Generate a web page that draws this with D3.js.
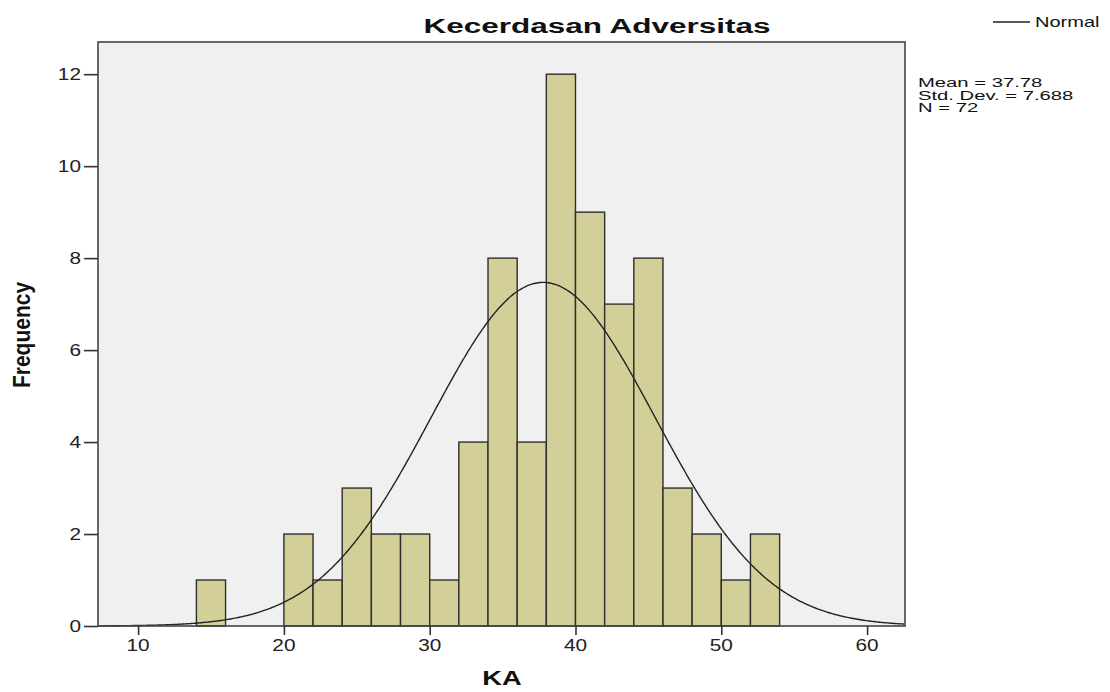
<!DOCTYPE html>
<html><head><meta charset="utf-8">
<script src="https://cdn.jsdelivr.net/npm/d3@7"></script>
<style>body{margin:0;background:#fff}</style>
</head><body>
<svg id="c" width="1110" height="692"></svg>
<script>
const binStarts = [14,20,22,24,26,28,30,32,34,36,38,40,42,44,46,48,50,52];
const counts    = [1, 2, 1, 3, 2, 2, 1, 4, 8, 4, 12,9, 7, 8, 3, 2, 1, 2];
const binWidth = 2;
const xTicks = [10,20,30,40,50,60];
const yTicks = [0,2,4,6,8,10,12];
const statsLines = ["Mean = 37.78","Std. Dev. = 7.688","N = 72"];
const mean = 37.78, sd = 7.688, n = 72;

const FONT = "'Liberation Sans', Arial, sans-serif";
const svg = d3.select("#c");
const L=98, R=905, T=42, B=626;
const x = d3.scaleLinear().domain([7.25,62.6]).range([L,R]);
const y = d3.scaleLinear().domain([0,12.7]).range([B,T]);

function wideText(g, txt, px, py, size, sx, anchor, weight){
  return g.append("text")
    .attr("transform",`translate(${px},${py}) scale(${sx},1)`)
    .attr("text-anchor",anchor||"start")
    .attr("font-family",FONT).attr("font-size",size)
    .attr("font-weight",weight||"normal").attr("fill","#111").text(txt);
}

svg.append("rect").attr("x",L).attr("y",T).attr("width",R-L).attr("height",B-T)
  .attr("fill","#f0f0f0");

svg.append("g").selectAll("rect").data(binStarts).join("rect")
  .attr("x",(d)=>x(d)).attr("width",(d)=>x(d+binWidth)-x(d))
  .attr("y",(d,i)=>y(counts[i])).attr("height",(d,i)=>B-y(counts[i]))
  .attr("fill","#d3cf98").attr("stroke","#2e2e2a").attr("stroke-width",1.4);

const pts = d3.range(x.domain()[0], x.domain()[1]+0.001, 0.1);
const norm = v => n*binWidth/(sd*Math.sqrt(2*Math.PI))*Math.exp(-0.5*((v-mean)/sd)**2);
svg.append("path").datum(pts)
  .attr("d", d3.line().x(v=>x(v)).y(v=>y(norm(v))).curve(d3.curveBasis))
  .attr("fill","none").attr("stroke","#222").attr("stroke-width",1.4);

svg.append("rect").attr("x",L).attr("y",T).attr("width",R-L).attr("height",B-T)
  .attr("fill","none").attr("stroke","#444").attr("stroke-width",1.6);

const xa = svg.append("g").attr("transform",`translate(0,${B})`)
  .call(d3.axisBottom(x).tickValues(xTicks).tickSize(9).tickFormat(""));
const ya = svg.append("g").attr("transform",`translate(${L},0)`)
  .call(d3.axisLeft(y).tickValues(yTicks).tickSize(14).tickFormat(""));
[xa,ya].forEach(a=>{
  a.select(".domain").remove();
  a.selectAll("line").attr("stroke","#333").attr("stroke-width",1.6);
});
const xl = svg.append("g");
xTicks.forEach(v=>wideText(xl, String(v), x(v), 651, 16, 1.3, "middle").attr("fill","#222"));
const yl = svg.append("g");
yTicks.forEach(v=>wideText(yl, String(v), 81, y(v)+6, 16, 1.3, "end").attr("fill","#222"));

wideText(svg, "Kecerdasan Adversitas", 597, 33, 21, 1.5, "middle", "bold");
wideText(svg, "KA", 502, 685, 21, 1.3, "middle", "bold");

svg.append("text").attr("transform","translate(30,335) rotate(-90) scale(1,1.1)").attr("text-anchor","middle")
  .attr("font-family",FONT).attr("font-weight","bold").attr("font-size",21)
  .attr("fill","#111").text("Frequency");

svg.append("line").attr("x1",993).attr("x2",1030).attr("y1",22).attr("y2",22)
  .attr("stroke","#222").attr("stroke-width",1.3);
wideText(svg, "Normal", 1035, 27, 14.5, 1.38, "start");

const st = svg.append("g");
statsLines.forEach((s,i)=>wideText(st, s, 918, 87+i*12.5, 13.5, 1.5, "start"));
</script>
</body></html>
